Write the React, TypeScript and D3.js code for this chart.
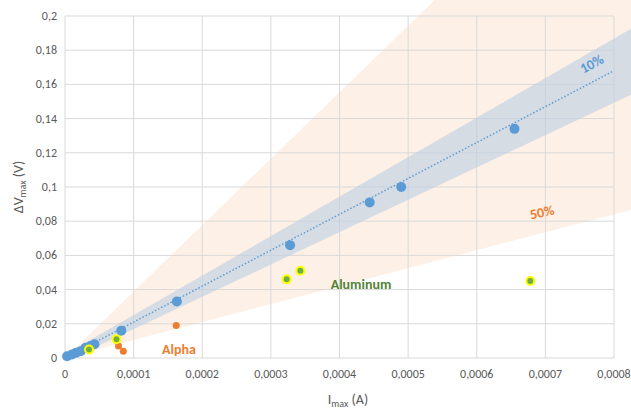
import React from "react";
import * as d3 from "d3";

const blueX = [0.000003, 0.00001, 0.000016, 0.000023, 0.00003, 0.000037, 0.000043, 0.000082, 0.000163, 0.000328, 0.000444, 0.00049, 0.000655];
const blueY = [0.001, 0.002, 0.003, 0.004, 0.006, 0.007, 0.008, 0.016, 0.033, 0.066, 0.091, 0.1, 0.134];
const orangeX = [0.000162, 0.000076, 0.000078, 0.000085];
const orangeY = [0.019, 0.011, 0.007, 0.004];
const greenX = [0.000035, 0.000075, 0.000323, 0.000343, 0.000678];
const greenY = [0.005, 0.011, 0.046, 0.051, 0.045];
const xTicks = [0, 0.0001, 0.0002, 0.0003, 0.0004, 0.0005, 0.0006, 0.0007, 0.0008];
const yTicks = [0, 0.02, 0.04, 0.06, 0.08, 0.1, 0.12, 0.14, 0.16, 0.18, 0.2];
const slope = 210;

const W = 631, H = 413;
const x = d3.scaleLinear().domain([0, 0.0008]).range([65, 614]);
const y = d3.scaleLinear().domain([0, 0.2]).range([358, 16]);
const fmt = (v: number) => (v === 0 ? "0" : String(v).replace(".", ","));
const font = "Calibri, Carlito, 'Open Sans', sans-serif";

export default function App() {
  const xe = 0.00095;
  const band = [
    [0, 0.002], [xe, slope * xe * 1.1 + 0.002], [xe, slope * xe * 0.9 - 0.002], [0, -0.002],
  ];
  const wedge = [[0, 0], [xe, slope * xe * 1.85], [xe, slope * xe * 0.5]];
  const poly = (pts: number[][]) => pts.map((p) => `${x(p[0])},${y(p[1])}`).join(" ");
  return (
    <svg width={W} height={H} style={{ position: "absolute", left: 0, top: 0, background: "#fff" }}>
      <defs>
        <clipPath id="c"><rect x={0} y={0} width={W} height={358} /></clipPath>
      </defs>
      <g clipPath="url(#c)">
        <polygon points={poly(wedge)} fill="#fdf0e6" />
      </g>
      {xTicks.map((t) => (
        <line key={"x" + t} x1={x(t)} x2={x(t)} y1={16} y2={358} stroke="#d9d9d9" />
      ))}
      {yTicks.map((t) => (
        <line key={"y" + t} x1={65} x2={614} y1={y(t)} y2={y(t)} stroke="#d9d9d9" />
      ))}
      <g clipPath="url(#c)">
        <polygon points={poly(band)} fill="#bccfe3" opacity={0.6} />
      </g>
      <line x1={x(0)} y1={y(0)} x2={x(0.0008)} y2={y(slope * 0.0008)} stroke="#5b9bd5" strokeWidth={1.5} strokeDasharray="1.5 2" />
      {yTicks.map((t) => (
        <text key={"yl" + t} x={57} y={y(t) + 4} textAnchor="end" fontSize={12} fill="#595959" fontFamily={font}>{fmt(t)}</text>
      ))}
      {xTicks.map((t) => (
        <text key={"xl" + t} x={x(t)} y={378} textAnchor="middle" fontSize={12} fill="#595959" fontFamily={font}>{fmt(t)}</text>
      ))}
      {blueX.map((v, i) => (
        <circle key={"b" + i} cx={x(v)} cy={y(blueY[i])} r={5} fill="#5b9bd5" />
      ))}
      {orangeX.map((v, i) => (
        <circle key={"o" + i} cx={x(v)} cy={y(orangeY[i])} r={3.5} fill="#ed7d31" />
      ))}
      {greenX.map((v, i) => (
        <circle key={"g" + i} cx={x(v)} cy={y(greenY[i])} r={4} fill="#70ad47" stroke="#ffff00" strokeWidth={2} />
      ))}
      <text x={361} y={289} textAnchor="middle" fontSize={14} fontWeight="bold" fill="#548235" fontFamily={font}>Aluminum</text>
      <text x={179} y={354} textAnchor="middle" fontSize={14} fontWeight="bold" fill="#ed7d31" fontFamily={font}>Alpha</text>
      <text x={594} y={68} textAnchor="middle" fontSize={14} fontWeight="bold" fill="#5b9bd5" fontFamily={font} transform="rotate(-28 594 68)">10%</text>
      <text x={543} y={217} textAnchor="middle" fontSize={14} fontWeight="bold" fill="#ed7d31" fontFamily={font} transform="rotate(-12 543 217)">50%</text>
      <text x={348} y={404} textAnchor="middle" fontSize={14} fill="#595959" fontFamily={font}>
        I<tspan fontSize={10} dy={3}>max</tspan><tspan dy={-3}> (A)</tspan>
      </text>
      <text transform="translate(23,187) rotate(-90)" textAnchor="middle" fontSize={14} fill="#595959" fontFamily={font}>
        ΔV<tspan fontSize={10} dy={3}>max</tspan><tspan dy={-3}> (V)</tspan>
      </text>
    </svg>
  );
}
